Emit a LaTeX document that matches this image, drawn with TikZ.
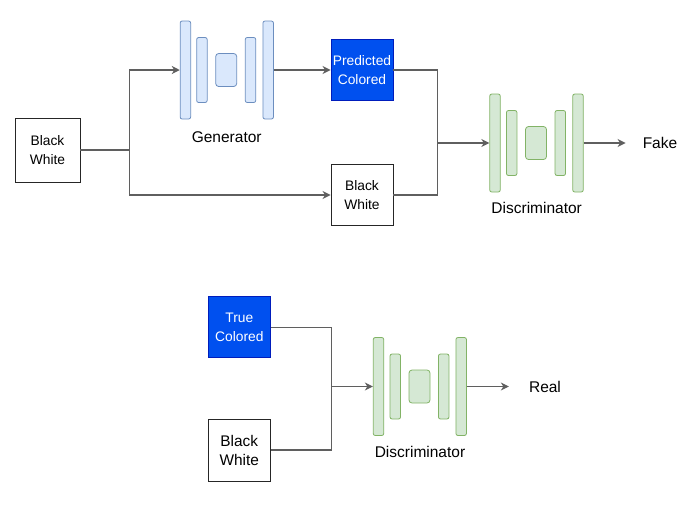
\documentclass[tikz,border=0pt]{standalone}
\usepackage{fontspec}
\setmainfont{Liberation Sans}
\usetikzlibrary{arrows.meta, positioning}
\definecolor{genfill}{HTML}{DAE8FC}
\definecolor{genline}{HTML}{6C8EBF}
\definecolor{discfill}{HTML}{D5E8D4}
\definecolor{discline}{HTML}{82B366}
\definecolor{imgblue}{HTML}{0050EF}
\definecolor{imgblueline}{HTML}{001DBC}
\definecolor{wire}{HTML}{5F5F5F}
\tikzset{
    imgbox/.style={draw=black!85, line width=0.9pt, minimum width=62pt, minimum height=61pt,
        inner sep=0pt, align=center, font=\fontsize{13.8}{18.7}\selectfont},
    colbox/.style={imgbox, fill=imgblue, draw=imgblueline, text=white},
    genbar/.style={draw=genline, fill=genfill, line width=0.8pt, rounded corners=2pt,
        minimum width=10.5pt, inner sep=0pt},
    discbar/.style={genbar, draw=discline, fill=discfill},
    label/.style={font=\fontsize{15.5}{18}\selectfont, inner sep=2pt},
    wire/.style={draw=wire, line width=1.2pt},
    flow/.style={wire, -{Stealth[length=8pt, width=8pt, inset=2.5pt]}},
}

\begin{document}
\begin{tikzpicture}[x=1pt, y=-1pt]
    \useasboundingbox (0,0) rectangle (691,507);

    % input images
    \node[imgbox, minimum width=65pt, minimum height=64pt] (bwin) at (47.5,150) {Black\\White};
    \node[colbox] (pred) at (362,70) {Predicted\\Colored};
    \node[imgbox] (bwcopy) at (362,195) {Black\\White};
    \node[colbox] (truec) at (239.3,327.3) {True\\Colored};
    \node[imgbox, minimum height=62pt, font=\fontsize{15.4}{19}\selectfont] (bwreal) at (239.3,450) {Black\\White};

    % generator
    \node[genbar, minimum height=98pt] (g1) at (185.4,70) {};
    \node[genbar, minimum height=65pt] (g2) at (201.9,70) {};
    \node[genbar, minimum width=21pt, minimum height=33pt, rounded corners=3pt] (g3) at (226.2,70) {};
    \node[genbar, minimum height=65pt] (g4) at (250.5,70) {};
    \node[genbar, minimum height=98pt] (g5) at (268.2,70) {};
    \node[label] (genlbl) at (226.7,136.7) {Generator};

    % discriminator (fake branch)
    \node[discbar, minimum height=98pt] (d1) at (495,143) {};
    \node[discbar, minimum height=65pt] (d2) at (511.7,143) {};
    \node[discbar, minimum width=21pt, minimum height=33pt, rounded corners=3pt] (d3) at (536,143) {};
    \node[discbar, minimum height=65pt] (d4) at (560.3,143) {};
    \node[discbar, minimum height=98pt] (d5) at (578,143) {};
    \node[label] (disclbl) at (536.7,208.3) {Discriminator};
    \node[label] (fake) at (660,143) {Fake};

    % discriminator (real branch)
    \node[discbar, minimum height=98pt] (e1) at (378.5,386.5) {};
    \node[discbar, minimum height=65pt] (e2) at (395.3,386.5) {};
    \node[discbar, minimum width=21pt, minimum height=33pt, rounded corners=3pt] (e3) at (419.5,386.5) {};
    \node[discbar, minimum height=65pt] (e4) at (443.7,386.5) {};
    \node[discbar, minimum height=98pt] (e5) at (461.2,386.5) {};
    \node[label] (disclbl2) at (420,452.3) {Discriminator};
    \node[label] (real) at (545,386.5) {Real};

    % junctions
    \coordinate (split) at (129.3,150);
    \coordinate (merge) at (437.7,143);
    \coordinate (merge2) at (331.7,386.5);

    % connectors
    \draw[wire] (bwin.east) -- (split);
    \draw[flow] (split) |- (g1.west);
    \draw[flow] (split) |- (bwcopy.west);
    \draw[flow] (g5.east) -- (pred.west);
    \draw[wire] (pred.east) -| (merge);
    \draw[wire] (bwcopy.east) -| (merge);
    \draw[flow] (merge) -- (d1.west);
    \draw[flow, shorten >=15pt] (d5.east) -- (fake.west);

    \draw[wire] (truec.east) -| (merge2);
    \draw[wire] (bwreal.east) -| (merge2);
    \draw[flow] (merge2) -- (e1.west);
    \draw[flow, shorten >=18pt] (e5.east) -- (real.west);
\end{tikzpicture}
\end{document}
